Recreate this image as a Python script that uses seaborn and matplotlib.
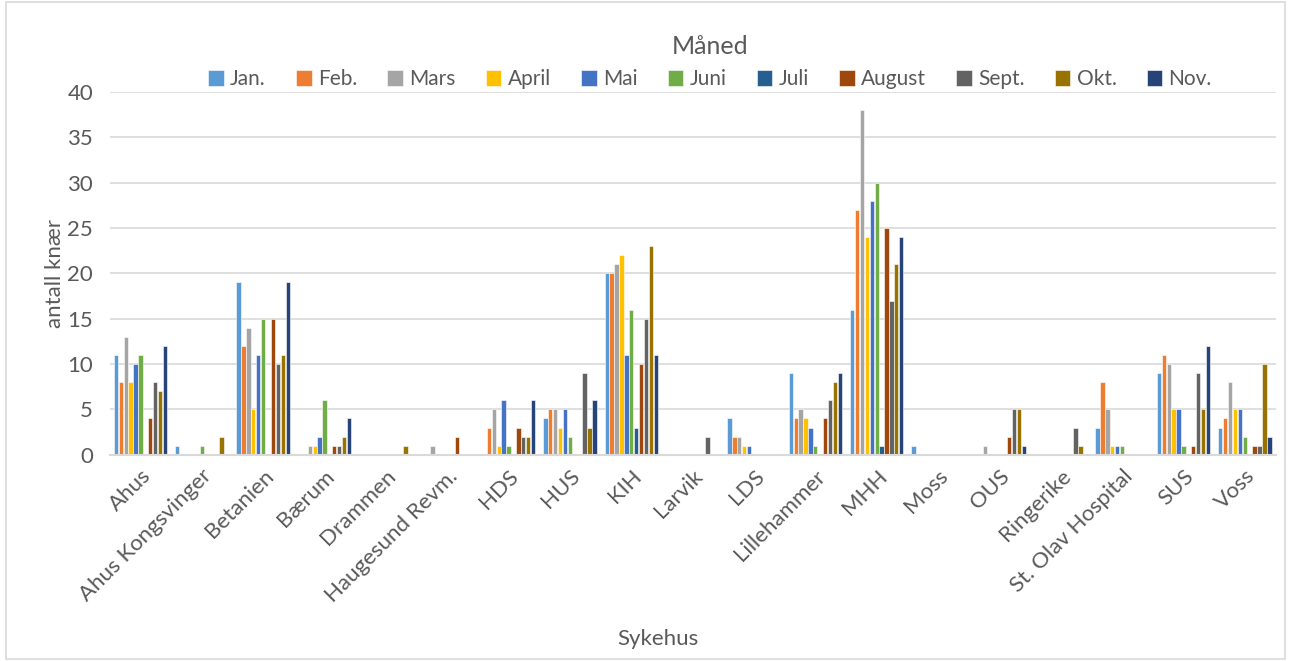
import pandas as pd
import seaborn as sns
from matplotlib import pyplot as plt
from matplotlib.patches import Rectangle

# Sykehus (x-axis categories)
sykehus = ['Ahus', 'Ahus Kongsvinger', 'Betanien', 'Bærum', 'Drammen', 'Haugesund Revm.',
           'HDS', 'HUS', 'KIH', 'Larvik', 'LDS', 'Lillehammer', 'MHH', 'Moss', 'OUS',
           'Ringerike', 'St. Olav Hospital', 'SUS', 'Voss']

maaneder = ['Jan.', 'Feb.', 'Mars', 'April', 'Mai', 'Juni', 'Juli', 'August', 'Sept.', 'Okt.', 'Nov.']

# antall knær per sykehus, one list per month (same order as sykehus)
jan = [11, 1, 19, 0, 0, 0, 0, 4, 20, 0, 4, 9, 16, 1, 0, 0, 3, 9, 3]
feb = [8, 0, 12, 0, 0, 0, 3, 5, 20, 0, 2, 4, 27, 0, 0, 0, 8, 11, 4]
mars = [13, 0, 14, 1, 0, 1, 5, 5, 21, 0, 2, 5, 38, 0, 1, 0, 5, 10, 8]
april = [8, 0, 5, 1, 0, 0, 1, 3, 22, 0, 1, 4, 24, 0, 0, 0, 1, 5, 5]
mai = [10, 0, 11, 2, 0, 0, 6, 5, 11, 0, 1, 3, 28, 0, 0, 0, 1, 5, 5]
juni = [11, 1, 15, 6, 0, 0, 1, 2, 16, 0, 0, 1, 30, 0, 0, 0, 1, 1, 2]
juli = [0, 0, 0, 0, 0, 0, 0, 0, 3, 0, 0, 0, 1, 0, 0, 0, 0, 0, 0]
august = [4, 0, 15, 1, 0, 2, 3, 0, 10, 0, 0, 4, 25, 0, 2, 0, 0, 1, 1]
sept = [8, 0, 10, 1, 0, 0, 2, 9, 15, 2, 0, 6, 17, 0, 5, 3, 0, 9, 1]
okt = [7, 2, 11, 2, 1, 0, 2, 3, 23, 0, 0, 8, 21, 0, 5, 1, 0, 5, 10]
nov = [12, 0, 19, 4, 0, 0, 6, 6, 11, 0, 0, 9, 24, 0, 1, 0, 0, 12, 2]

farger = ['#5B9BD5', '#ED7D31', '#A5A5A5', '#FFC000', '#4472C4', '#70AD47',
          '#255E91', '#9E480E', '#636363', '#997300', '#264478']

serier = [jan, feb, mars, april, mai, juni, juli, august, sept, okt, nov]
rows = []
for m, verdier in zip(maaneder, serier):
    for s, v in zip(sykehus, verdier):
        rows.append({'Sykehus': s, 'Måned': m, 'antall knær': v})
df = pd.DataFrame(rows)

sns.set_theme(style='white')
plt.rcParams['font.family'] = ['Lato', 'DejaVu Sans']
tekst = '#595959'

fig = plt.figure(figsize=(12.91, 6.61), dpi=100)
ax = fig.add_axes([0.085, 0.312, 0.903, 0.549])

sns.barplot(data=df, x='Sykehus', y='antall knær', hue='Måned', hue_order=maaneder,
            order=sykehus, palette=farger, width=0.88, gap=0.12, saturation=1,
            edgecolor='white', linewidth=0.4, ax=ax)

ax.set_ylim(0, 40)
ax.set_yticks(range(0, 41, 5))
ax.set_xlim(-0.5, len(sykehus) - 0.5)
ax.yaxis.grid(True, color='#D9D9D9', linewidth=1.2)
ax.set_axisbelow(True)
for side in ['top', 'right', 'left']:
    ax.spines[side].set_visible(False)
ax.spines['bottom'].set_color('#D9D9D9')
ax.spines['bottom'].set_linewidth(1.5)
ax.tick_params(axis='both', length=0, labelsize=16, colors=tekst, pad=8)
ax.tick_params(axis='y', pad=12)
plt.setp(ax.get_xticklabels(), rotation=45, ha='right', rotation_mode='anchor')
ax.set_xlabel('Sykehus', fontsize=16, color=tekst)
ax.xaxis.set_label_coords(0.47, -0.48)
ax.set_ylabel('antall knær', fontsize=16, color=tekst, labelpad=2)

handles, labels = ax.get_legend_handles_labels()
ax.get_legend().remove()
leg = fig.legend(handles, labels, loc='upper center', bbox_to_anchor=(0.55, 0.975), ncol=11,
                 frameon=False, fontsize=15, title='Måned', title_fontsize=18,
                 handlelength=0.75, handleheight=0.75, handletextpad=0.3, columnspacing=1.45,
                 labelcolor=tekst)
leg.get_title().set_color(tekst)
leg._legend_box.sep = 8

fig.patches.append(Rectangle((0.005, 0.003), 0.99, 0.994, transform=fig.transFigure,
                             fill=False, edgecolor='#D9D9D9', linewidth=1.2))

fig.savefig('out.png', dpi=100)
